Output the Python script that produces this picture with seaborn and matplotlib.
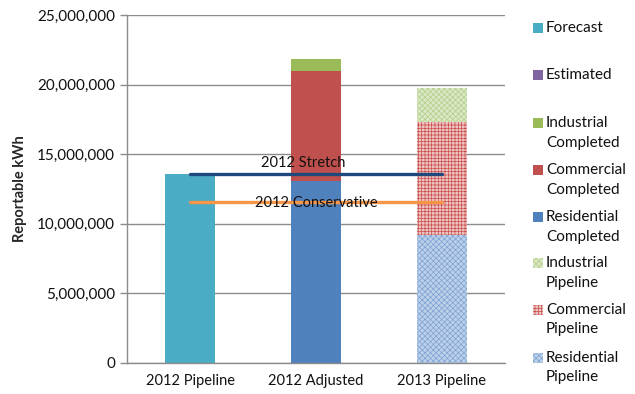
import numpy as np
import matplotlib
matplotlib.use('Agg')
import matplotlib.pyplot as plt
from matplotlib.patches import Rectangle
from matplotlib.ticker import FuncFormatter
import seaborn as sns

# Data
categories = ['2012 Pipeline', '2012 Adjusted', '2013 Pipeline']
forecast = [13600000, 0, 0]
estimated = [0, 0, 0]
industrial_completed = [0, 850000, 0]
commercial_completed = [0, 7900000, 0]
residential_completed = [0, 13070000, 0]
industrial_pipeline = [0, 0, 2450000]
commercial_pipeline = [0, 0, 8130000]
residential_pipeline = [0, 0, 9200000]
stretch_target = [13600000, 13600000, 13600000]
conservative_target = [11550000, 11550000, 11550000]

sns.set_style('white')
plt.rcParams['font.family'] = ['Lato', 'DejaVu Sans']
plt.rcParams['hatch.linewidth'] = 0.5

fig = plt.figure(figsize=(6.35, 3.94), dpi=100)
ax = fig.add_axes([127 / 635, 31 / 394, 378 / 635, 348 / 394])

# series in stacking order (bottom -> top), with fill / hatch style
series = [
    ('Residential\nCompleted', residential_completed, '#4f81bd', None, None),
    ('Commercial\nCompleted', commercial_completed, '#c0504d', None, None),
    ('Industrial\nCompleted', industrial_completed, '#9bbb59', None, None),
    ('Residential\nPipeline', residential_pipeline, '#bcd0ea', '#7da2d2', 'xxxxxx'),
    ('Commercial\nPipeline', commercial_pipeline, '#eec3c2', '#c9504c', '+++++'),
    ('Industrial\nPipeline', industrial_pipeline, '#dbe8c6', '#b3cd88', 'xxxxxx'),
    ('Forecast', forecast, '#4bacc6', None, None),
    ('Estimated', estimated, '#8064a2', None, None),
]

# cumulative tops, draw tallest first so lower segments sit on top
tops = []
running = np.zeros(len(categories))
for name, vals, face, hcol, hatch in series:
    running = running + np.array(vals)
    tops.append(running.copy())

for (name, vals, face, hcol, hatch), top in reversed(list(zip(series, tops))):
    kw = dict(x=categories, y=top, color=face, saturation=1, width=0.4,
              ax=ax, linewidth=0, order=categories)
    if hatch:
        kw.update(hatch=hatch, edgecolor=hcol)
    sns.barplot(**kw)

pos = np.arange(len(categories))
sns.lineplot(x=pos, y=stretch_target, color='#1f497d', linewidth=2.4, ax=ax)
sns.lineplot(x=pos, y=conservative_target, color='#f79646', linewidth=2.4, ax=ax)
ax.text(0.9, stretch_target[0] + 750000, '2012 Stretch', ha='center', va='center',
        fontsize=10.5, color='#111111')
ax.text(1.0, conservative_target[0] - 50000, '2012 Conservative', ha='center', va='center',
        fontsize=10.5, color='#111111')

ax.set_xlim(-0.5, 2.5)
ax.set_ylim(0, 25000000)
ax.set_yticks(np.arange(0, 25000001, 5000000))
ax.yaxis.set_major_formatter(FuncFormatter(lambda v, p: f'{int(v):,}'))
ax.yaxis.grid(True, color='#8c8c8c', linewidth=1)
ax.set_axisbelow(True)
ax.set_xticks(pos)
ax.set_xticklabels(categories)
ax.set_xticks([-0.5, 0.5, 1.5, 2.5], minor=True)
ax.tick_params(axis='x', which='major', length=0, labelsize=10.5, pad=8, colors='#111111')
ax.tick_params(axis='x', which='minor', length=5, color='#8c8c8c', width=1, direction='out')
ax.tick_params(axis='y', length=5, color='#8c8c8c', width=1, labelsize=11, colors='#111111',
               direction='out', left=True)
for s in ['top', 'right']:
    ax.spines[s].set_visible(False)
for s in ['left', 'bottom']:
    ax.spines[s].set_color('#8c8c8c')
    ax.spines[s].set_linewidth(1)
ax.set_xlabel('')
ax.set_ylabel('Reportable kWh', fontsize=10.5, fontweight='bold', labelpad=7)

# legend drawn to match the spreadsheet layout
legend_order = [6, 7, 2, 1, 0, 5, 4, 3]
legend_y = [28, 75, 123, 170, 217, 263, 310, 358]
for idx, yy in zip(legend_order, legend_y):
    name, vals, face, hcol, hatch = series[idx]
    r = Rectangle((533 / 635, 1 - (yy + 5) / 394), 10 / 635, 10 / 394,
                  transform=fig.transFigure, facecolor=face,
                  edgecolor=hcol if hcol else face, linewidth=0, hatch=hatch)
    fig.add_artist(r)
    fig.text(546 / 635, 1 - (yy - 7) / 394, name, ha='left', va='top', fontsize=11,
             linespacing=1.5, color='#111111')

fig.savefig('out.png', dpi=100)
